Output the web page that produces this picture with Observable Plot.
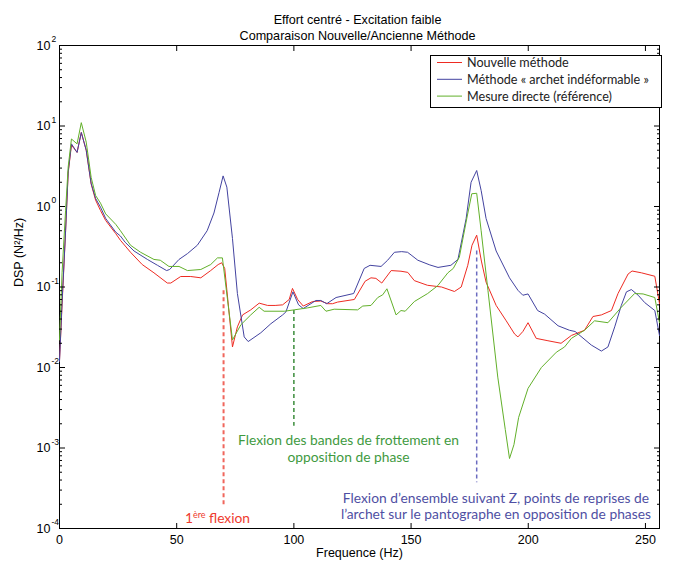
<!DOCTYPE html>
<html><head><meta charset="utf-8">
<script src="https://cdn.jsdelivr.net/npm/d3@7"></script>
<script src="https://cdn.jsdelivr.net/npm/@observablehq/plot@0.6"></script>
<style>
body{margin:0;background:#fff;}
#chart{width:674px;height:566px;}
</style></head><body><div id="chart"></div>
<script>
// ---- Data ----
const freqNouvelle = [0,1.1,2.6,3.7,5.1,7.5,9.3,11.4,13.5,15.4,17.5,19.7,24,26,30.3,35.3,40.3,46,47.5,51.7,56,60.3,64.5,67.7,69.2,70.5,73.8,75.9,78.1,81.6,85.2,88.8,92,95.2,98,99.4,101.6,104,108,111.5,114.4,116.5,118.7,125.8,130.4,132.9,135,137.5,141.5,145.7,148.6,151.4,157,163,168.5,171.4,174.2,176,178,180,182,186.3,190.6,194.2,195.6,197.7,199.9,203.4,208.4,214,218.4,224,227.6,231.2,235.5,238.3,242.6,244.3,248.3,254,256];
const dspNouvelle = [0.012,0.06,0.5,2.6,5.8,4.7,8.3,5.0,1.9,1.2,0.89,0.67,0.46,0.38,0.27,0.19,0.15,0.112,0.112,0.135,0.135,0.13,0.16,0.19,0.2,0.17,0.018,0.032,0.045,0.052,0.063,0.059,0.059,0.06,0.07,0.096,0.07,0.058,0.066,0.067,0.062,0.062,0.065,0.07,0.118,0.13,0.128,0.112,0.16,0.157,0.152,0.12,0.105,0.1,0.088,0.1,0.186,0.33,0.44,0.21,0.115,0.059,0.038,0.026,0.024,0.028,0.036,0.023,0.0215,0.02,0.025,0.029,0.043,0.045,0.051,0.083,0.145,0.158,0.15,0.136,0.062];

const freqArchet = [0,1.1,2.6,3.7,5.1,7.5,9.3,11.4,13.5,15.4,17.5,19.7,24,26,28,31.8,37.5,41.8,45.7,47,51,54.6,58.8,63,65.9,68.1,69.8,71.4,73.8,75.9,78.8,80.5,85.9,90.2,95.2,96.6,99.6,102,104,109.4,111.5,114,118,125.5,130,132.5,137.2,140,142.9,146,148.5,150,152.9,158,161.5,167,170,173.5,175.6,178,179.9,182,186.3,192,195.6,197.7,199.9,204,207,212.7,217.6,220,226.9,231.2,234,236.9,239.7,241.9,244,246.9,249.7,254,256];
const dspArchet = [0.012,0.065,0.5,2.7,6.0,4.7,8.3,5.0,1.94,1.26,0.98,0.71,0.48,0.43,0.36,0.28,0.22,0.186,0.16,0.165,0.22,0.26,0.33,0.5,0.83,1.5,2.4,1.74,0.4,0.083,0.024,0.021,0.027,0.035,0.045,0.049,0.087,0.06,0.054,0.068,0.068,0.062,0.074,0.083,0.17,0.186,0.18,0.215,0.27,0.275,0.27,0.25,0.215,0.188,0.175,0.186,0.22,0.71,2.0,2.8,1.58,0.71,0.28,0.13,0.091,0.079,0.082,0.051,0.046,0.033,0.029,0.028,0.019,0.016,0.018,0.032,0.059,0.087,0.093,0.079,0.064,0.051,0.025];

const freqDirecte = [0,1.1,2.6,3.7,5.1,7.5,9.3,11.4,13.5,15.4,17.5,19.7,24,26,30.3,34.6,40.3,43,46.7,51,54.6,60.3,64.5,67.4,69.5,73.8,77.4,81.6,85.2,87.3,95.9,100.1,105.8,111.5,113.7,117.2,127.2,129.4,132.9,135.8,137.9,139.7,143.6,145.7,147.5,151.4,157.1,161.4,165.7,168,170.6,173.9,175.9,178,179.9,182.8,187,190.2,192,193.9,195.9,199.9,205.6,212,215.5,218.4,224,228.3,234,239.7,245.4,249,254,256];
const dspDirecte = [0.022,0.15,0.9,3.1,6.9,6.0,11,6.3,2.3,1.37,1.1,0.81,0.6,0.5,0.33,0.27,0.22,0.215,0.18,0.18,0.16,0.165,0.19,0.23,0.23,0.022,0.034,0.045,0.056,0.05,0.05,0.052,0.055,0.059,0.05,0.053,0.052,0.058,0.059,0.074,0.08,0.095,0.045,0.051,0.05,0.066,0.083,0.104,0.15,0.17,0.235,0.74,1.44,1.46,0.5,0.091,0.0076,0.0017,0.00074,0.0011,0.0024,0.0055,0.01,0.0155,0.018,0.023,0.029,0.038,0.036,0.056,0.083,0.082,0.074,0.036];

const seriesNames = ["Nouvelle méthode", "Méthode « archet indéformable »", "Mesure directe (référence)"];
const seriesColors = ["#ee2b22", "#4343a0", "#62b02a"];

const xTicks = [0, 50, 100, 150, 200, 250];
const yExponents = [-4, -3, -2, -1, 0, 1, 2];

const annotFreq = [70, 100, 178];
const annotTop = [0.09, 0.051, 0.28];
const annotBottom = [0.000195, 0.00186, 0.00037];
const annotLineColors = ["#f0665c", "#3c8c3c", "#6b6bc0"];
const annotText = ["1ère flexion",
  "Flexion des bandes de frottement en\nopposition de phase",
  "Flexion d’ensemble suivant Z, points de reprises de\nl’archet sur le pantographe en opposition de phases"];
const annotTextColors = ["#ee3a2e", "#3f9a3f", "#4f4fa3"];
const annotTextFreq = [67.4, 123.3, 186.2];
const annotTextDsp = [1.37e-4, 9.9e-4, 1.93e-4];

const titleLines = ["Effort centré - Excitation faible", "Comparaison Nouvelle/Ancienne Méthode"];
const xLabel = "Frequence (Hz)";
const yLabel = "DSP (N²/Hz)";

// ---- Build table ----
const rows = [];
[[freqNouvelle, dspNouvelle], [freqArchet, dspArchet], [freqDirecte, dspDirecte]].forEach(([fs, vs], k) => {
  fs.forEach((f, i) => rows.push({s: seriesNames[k], f, v: vs[i]}));
});
const yMajors = yExponents.map(e => Math.pow(10, e));
const yMinors = [];
yExponents.slice(0, -1).forEach(e => { for (let m = 2; m <= 9; m++) yMinors.push(m * Math.pow(10, e)); });

const sans = "'Liberation Sans', Arial, sans-serif";
const human = "Lato, 'Open Sans', sans-serif";

const plot = Plot.plot({
  width: 674, height: 566,
  marginLeft: 59, marginRight: 15, marginTop: 45, marginBottom: 38,
  style: {fontFamily: sans, fontSize: "12px", background: "#fff", color: "#000"},
  x: {domain: [0, 256], label: null},
  y: {type: "log", domain: [1e-4, 1e2], label: null},
  color: {domain: seriesNames, range: seriesColors},
  marks: [
    Plot.frame({stroke: "#000"}),
    ...annotFreq.map((f, i) => Plot.ruleX([f], {y1: annotTop[i], y2: annotBottom[i], stroke: annotLineColors[i], strokeWidth: i === 0 ? 2 : 1.5, strokeDasharray: "4,3"})),
    Plot.line(rows, {x: "f", y: "v", z: "s", stroke: "s", strokeWidth: 1}),
    // ticks inside
    Plot.axisX(xTicks, {anchor: "bottom", tickSize: -5, fill: "none", label: null}),
    Plot.axisX(xTicks, {anchor: "top", tickSize: -5, fill: "none", label: null}),
    Plot.axisX(xTicks, {anchor: "bottom", tickSize: 0, tickPadding: 7, label: null, fontSize: 12.5}),
    Plot.axisY(yMajors, {anchor: "left", tickSize: -6, fill: "none", label: null}),
    Plot.axisY(yMajors, {anchor: "right", tickSize: -6, fill: "none", label: null}),
    Plot.axisY(yMinors, {anchor: "left", tickSize: -3, fill: "none", label: null}),
    Plot.axisY(yMinors, {anchor: "right", tickSize: -3, fill: "none", label: null}),
    Plot.axisY(yMajors, {anchor: "left", tickSize: 0, tickPadding: 9, tickFormat: () => "10", label: null, fontSize: 12.5}),
    Plot.axisY(yMajors, {anchor: "left", tickSize: 0, tickPadding: 8, tickFormat: d => String(Math.round(Math.log10(d))), textAnchor: "start", dy: -6, fontSize: 8.5, label: null}),
    // labels & title
    Plot.text([yLabel], {frameAnchor: "left", rotate: -90, dx: -41, fontSize: 12.5}),
    Plot.text([xLabel], {frameAnchor: "bottom", dy: 28, fontSize: 12.5}),
    Plot.text([titleLines[0]], {frameAnchor: "top", dy: -30, dx: -2, fontSize: 12.6}),
    Plot.text([titleLines[1]], {frameAnchor: "top", dy: -14, dx: -2, fontSize: 12.6}),
    // annotations
    ...annotText.map((t, i) => Plot.text([t], {x: annotTextFreq[i], y: annotTextDsp[i], fill: annotTextColors[i], fontFamily: human, fontSize: 13.8, lineHeight: 1.2}))
  ]
});

const svg = d3.select(plot);
// superscript in "1ère flexion"
svg.selectAll("text").filter(function() { return this.textContent === annotText[0]; }).each(function() {
  const t = d3.select(this);
  t.text(null);
  t.append("tspan").text("1");
  t.append("tspan").attr("baseline-shift", "super").attr("font-size", 9).text("ère");
  t.append("tspan").text(" flexion");
});

// legend box
const lg = svg.append("g").attr("font-family", human).attr("font-size", 12.6).attr("text-anchor", "start");
lg.append("rect").attr("x", 430.5).attr("y", 55.5).attr("width", 231).attr("height", 52).attr("fill", "#fff").attr("stroke", "#000");
seriesNames.forEach((n, i) => {
  const y = 62.5 + i * 16.8;
  lg.append("line").attr("x1", 437).attr("x2", 462).attr("y1", y).attr("y2", y).attr("stroke", seriesColors[i]).attr("stroke-width", 1);
  lg.append("text").attr("x", 467).attr("y", y).attr("dy", "0.35em").attr("fill", "#222").text(n);
});

document.getElementById("chart").appendChild(plot);
</script>
</body></html>
